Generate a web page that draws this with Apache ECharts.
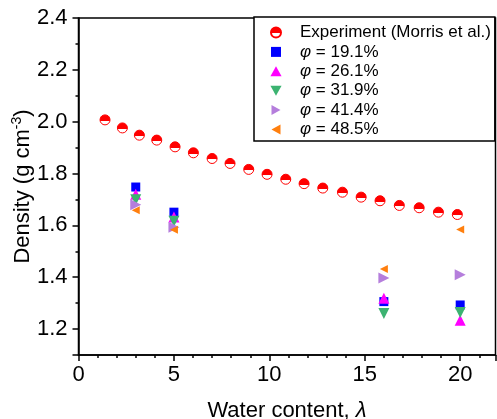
<!DOCTYPE html>
<html>
<head>
	<meta charset="utf-8">
	<title>Density vs water content</title>
	<script src="https://cdn.jsdelivr.net/npm/echarts@6/dist/echarts.min.js"></script>
	<style>
		html, body { margin: 0; padding: 0; background: #fff; }
		#chart { width: 497px; height: 419px; }
	</style>
</head>
<body>
<div id="chart"></div>
<script>
	// experiment (Morris et al.)
	var expX = [1.39, 2.30, 3.19, 4.10, 5.06, 6.02, 7.00, 7.94, 8.92, 9.88, 10.86, 11.82, 12.80, 13.83, 14.81, 15.80, 16.81, 17.85, 18.86, 19.85];
	var expY = [2.007, 1.976, 1.948, 1.929, 1.903, 1.880, 1.858, 1.839, 1.816, 1.797, 1.778, 1.761, 1.744, 1.728, 1.709, 1.695, 1.677, 1.668, 1.651, 1.642];

	// simulations, one array per phi
	var simX = [3, 5, 16, 20];
	var phi191 = [1.748, 1.651, 1.306, 1.293];
	var phi261 = [1.720, 1.632, 1.319, 1.234];
	var phi319 = [1.699, 1.616, 1.260, 1.264];
	var phi414 = [1.680, 1.593, 1.397, 1.410];
	var phi485 = [1.658, 1.583, 1.432, 1.584];

	var seriesNames = ['Experiment (Morris et al.)', 'φ = 19.1%', 'φ = 26.1%', 'φ = 31.9%', 'φ = 41.4%', 'φ = 48.5%'];

	var font = "'Liberation Sans', Arial, sans-serif";

	function pairs(xs, ys) {
		var out = [];
		for (var i = 0; i < xs.length; i++) out.push([xs[i], ys[i]]);
		return out;
	}

	// marker shapes
	var SQUARE = 'path://M0,0 L10,0 L10,10 L0,10 Z';
	var TRI_UP = 'path://M5,0 L10,9 L0,9 Z';
	var TRI_DOWN = 'path://M0,0 L10,0 L5,9 Z';
	var TRI_RIGHT = 'path://M0,0 L9,5 L0,10 Z';
	var TRI_LEFT = 'path://M9,0 L9,10 L0,5 Z';

	var halfFill = {
		type: 'linear', x: 0, y: 0, x2: 0, y2: 1,
		colorStops: [
			{offset: 0, color: '#ff0000'},
			{offset: 0.58, color: '#ff0000'},
			{offset: 0.58, color: '#ffffff'},
			{offset: 1, color: '#ffffff'}
		]
	};

	function simSeries(name, ys, symbol, size, color) {
		return {
			name: name,
			type: 'scatter',
			data: pairs(simX, ys),
			symbol: symbol,
			symbolSize: size,
			itemStyle: {color: color, opacity: 1},
			emphasis: {disabled: true}
		};
	}

	var chart = echarts.init(document.getElementById('chart'), null, {renderer: 'canvas'});

	chart.setOption({
		animation: false,
		backgroundColor: '#ffffff',
		textStyle: {fontFamily: font, color: '#000'},
		grid: {
			left: 78.5, right: 1.5, top: 18, bottom: 64,
			outerBoundsMode: 'none',
			containLabel: false,
			show: true, borderColor: '#000', borderWidth: 1.5, backgroundColor: 'transparent'
		},
		legend: {
			orient: 'vertical',
			left: 254, top: 17,
			padding: [7, 4, 3, 16],
			itemWidth: 38, itemHeight: 10,
			itemGap: 2.4,
			borderColor: '#000', borderWidth: 1.5,
			backgroundColor: '#fff',
			data: seriesNames,
			formatter: function (name) {
				return name.replace('φ', '{i|φ}');
			},
			textStyle: {
				fontFamily: font, fontSize: 17, color: '#000', lineHeight: 16,
				rich: {i: {fontStyle: 'italic', fontFamily: font, fontSize: 17, color: '#000', lineHeight: 16}}
			}
		},
		xAxis: {
			type: 'value',
			min: 0, max: 21.85, interval: 5,
			name: 'Water content, {i|λ}',
			nameLocation: 'middle',
			nameGap: 45,
			nameMoveOverlap: false,
			nameTextStyle: {
				fontSize: 22, color: '#000', fontFamily: font,
				rich: {i: {fontStyle: 'italic', fontSize: 22, fontFamily: font, color: '#000'}}
			},
			axisLine: {lineStyle: {color: '#000', width: 1.5}},
			axisTick: {inside: false, length: 6, lineStyle: {color: '#000', width: 1.5}},
			minorTick: {show: true, splitNumber: 5, length: 3, lineStyle: {color: '#000', width: 1.5}},
			axisLabel: {fontSize: 22, color: '#000', margin: 9, showMaxLabel: false, fontFamily: font},
			splitLine: {show: false}
		},
		yAxis: {
			type: 'value',
			min: 1.1, max: 2.4, splitNumber: 6,
			name: '{n|Density (g cm}{sup|-3}{n|)}',
			nameLocation: 'middle',
			nameGap: 44,
			nameMoveOverlap: false,
			nameTextStyle: {
				fontSize: 22, color: '#000', fontFamily: font,
				rich: {
					n: {fontSize: 22, lineHeight: 24, fontFamily: font, color: '#000'},
					sup: {fontSize: 14, lineHeight: 12, verticalAlign: 'top', fontFamily: font, color: '#000'}
				}
			},
			axisLine: {lineStyle: {color: '#000', width: 1.5}},
			axisTick: {inside: false, length: 6, lineStyle: {color: '#000', width: 1.5}},
			minorTick: {show: true, splitNumber: 2, length: 3, lineStyle: {color: '#000', width: 1.5}},
			axisLabel: {
				fontSize: 22, color: '#000', margin: 11, fontFamily: font, showMinLabel: false,
				formatter: function (v) { return v.toFixed(1); }
			},
			splitLine: {show: false}
		},
		series: [
			{
				name: seriesNames[0],
				type: 'scatter',
				data: pairs(expX, expY),
				symbol: 'circle',
				symbolSize: 10,
				itemStyle: {color: halfFill, borderColor: '#ff0000', borderWidth: 1, opacity: 1},
				emphasis: {disabled: true}
			},
			simSeries(seriesNames[1], phi191, SQUARE, 9, '#0000ff'),
			simSeries(seriesNames[2], phi261, TRI_UP, 11, '#ff00ff'),
			simSeries(seriesNames[3], phi319, TRI_DOWN, 11, '#3cb371'),
			simSeries(seriesNames[4], phi414, TRI_RIGHT, 11, '#b57edc'),
			simSeries(seriesNames[5], phi485, TRI_LEFT, 8, '#ff7f0e')
		]
	});
</script>
</body>
</html>
